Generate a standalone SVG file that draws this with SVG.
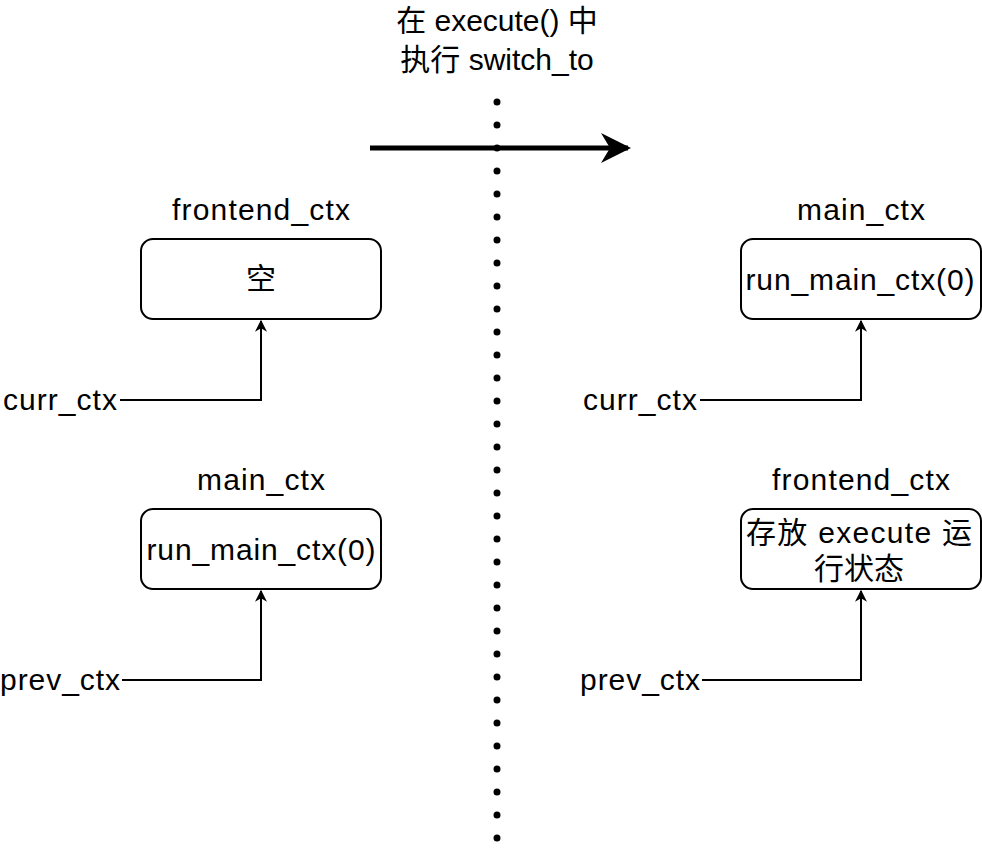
<svg xmlns="http://www.w3.org/2000/svg" width="982" height="854" viewBox="0 0 982 854">
<style>
text{font-family:"Liberation Sans","Noto Sans CJK SC",sans-serif;font-size:30px;fill:#000}
.c{text-anchor:middle}
.box{fill:#fff;stroke:#000;stroke-width:2}
.ln{fill:none;stroke:#000;stroke-width:2}
</style>
<defs>
<marker id="a" markerWidth="12" markerHeight="14" refX="9" refY="5" orient="auto" markerUnits="userSpaceOnUse" viewBox="0 0 10 10"><path d="M0,0 L10,5 L0,10 L3,5 Z"/></marker>
<marker id="b" viewBox="0 0 10 10" refX="9" refY="5" markerWidth="30" markerHeight="30" orient="auto" markerUnits="userSpaceOnUse"><path d="M0,0 L10,5 L0,10 L3,5 Z"/></marker>
</defs>
<rect width="982" height="854" fill="#fff"/>
<g id="title"><text class="c" x="497" y="31">在 execute() 中</text><text class="c" x="497" y="70">执行 switch_to</text></g>
<g id="divider"><line x1="497" y1="102" x2="497" y2="850" stroke="#000" stroke-width="7" stroke-linecap="round" stroke-dasharray="0 23"/></g>
<g id="connectors">
<line x1="370" y1="148" x2="628" y2="148" stroke="#000" stroke-width="5" marker-end="url(#b)"/>
<path class="ln" d="M120,400 H261 V321" marker-end="url(#a)"/>
<path class="ln" d="M122,680 H261 V591" marker-end="url(#a)"/>
<path class="ln" d="M700,400 H861 V321" marker-end="url(#a)"/>
<path class="ln" d="M702,680 H861 V591" marker-end="url(#a)"/>
</g>
<g id="l-frontend"><text class="c" x="261" y="220" textLength="178">frontend_ctx</text><rect class="box" x="141" y="239" width="240" height="80" rx="12"/><text class="c" x="261" y="289">空</text></g>
<g id="l-main"><text class="c" x="261" y="490" textLength="128">main_ctx</text><rect class="box" x="141" y="509" width="240" height="80" rx="12"/><text class="c" x="261" y="560" textLength="229">run_main_ctx(0)</text></g>
<g id="r-main"><text class="c" x="861" y="220" textLength="128">main_ctx</text><rect class="box" x="741" y="239" width="240" height="80" rx="12"/><text class="c" x="860" y="290" textLength="229">run_main_ctx(0)</text></g>
<g id="r-frontend"><text class="c" x="861" y="490" textLength="178">frontend_ctx</text><rect class="box" x="741" y="509" width="240" height="80" rx="12"/><text class="c" x="859" y="543" textLength="226">存放 execute 运</text><text class="c" x="859" y="579">行状态</text></g>
<g id="labels">
<text x="3" y="410" textLength="114">curr_ctx</text><text x="0" y="690" textLength="120">prev_ctx</text>
<text x="583" y="410" textLength="114">curr_ctx</text><text x="580" y="690" textLength="120">prev_ctx</text>
</g>
</svg>
